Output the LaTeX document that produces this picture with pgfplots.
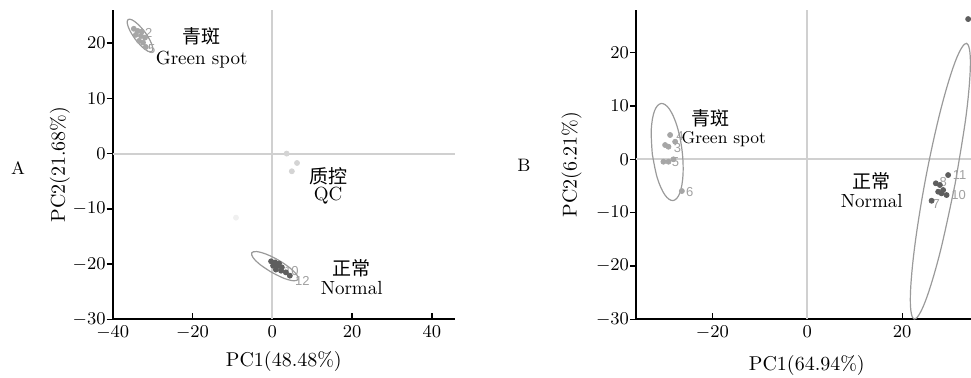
\documentclass[border=0pt]{standalone}
\usepackage{fontspec}
\usepackage{pgfplots}
\pgfplotsset{compat=1.18}
\newfontfamily\cjk{Noto Sans CJK SC}
\newfontfamily\numf{Liberation Sans}
\definecolor{zl}{HTML}{D0D0D0}
\definecolor{ell}{HTML}{9A9A9A}
\definecolor{gsp}{HTML}{A6A6A6}
\definecolor{nor}{HTML}{5E5E5E}
\definecolor{qc}{HTML}{D4D4D4}
\definecolor{lab}{HTML}{A0A0A0}
\pgfplotsset{
  pca/.style={
    scale only axis, height=154.65pt, anchor=south west,
    axis x line=bottom, axis y line=left,
    axis line style={-, line width=0.8pt},
    tick align=inside, major tick length=3pt,
    xtick style={line width=0.7pt, black},
    ytick style={line width=0.7pt, black, xshift=-3pt},
    ymin=-30, ytick={-30,-20,-10,0,10,20},
    tick label style={font=\fontsize{9}{10}\selectfont},
    label style={font=\fontsize{10}{11}\selectfont},
    clip=true,
  },
  zero/.style={zl, line width=1pt, forget plot},
  ellp/.style={ell, line width=0.6pt, smooth, tension=0.6, no markers},
  pts/.style={only marks, mark=*, mark size=1.25pt},
}
\tikzset{
  txt/.style={font=\fontsize{9.5}{11}\selectfont, align=center},
  num/.style={font=\numf\fontsize{6.5}{7}\selectfont, text=lab, inner sep=0pt, anchor=west},
}
\begin{document}
\begin{tikzpicture}
\useasboundingbox (0,0) rectangle (485.5pt,189pt);
% ---------------- Panel A
\begin{axis}[pca, at={(56.35pt,29.35pt)}, width=171.15pt,
  xmin=-40, xmax=45.8, ymax=26.0, xtick={-40,-20,0,20,40},
  xlabel={PC1(48.48\%)}, ylabel={PC2(21.68\%)},
  xlabel style={at={(axis description cs:0.5,-0.137)}, anchor=center},
  ylabel style={at={(axis description cs:-0.154,0.5)}, anchor=center}]
\addplot[zero] coordinates {(0,-30) (0,26)};
\addplot[zero] coordinates {(-40,0) (45.8,0)};
\addplot[ellp] coordinates {(-34.36,20.72) (-35.69,22.26) (-36.34,23.56) (-36.14,24.27) (-35.14,24.21) (-33.61,23.38) (-31.95,22.03) (-30.63,20.49) (-29.97,19.19) (-30.18,18.48) (-31.18,18.54) (-32.71,19.37) (-34.36,20.72)};
\addplot[ellp] coordinates {(-0.23,-21.47) (-3.01,-20.12) (-4.81,-18.84) (-5.15,-17.97) (-3.93,-17.74) (-1.49,-18.22) (1.53,-19.28) (4.31,-20.64) (6.12,-21.92) (6.45,-22.79) (5.24,-23.02) (2.79,-22.54) (-0.23,-21.47)};
\addplot[pts, gsp] coordinates {(-34.7,22.6) (-33.7,22.2) (-32.7,22.1) (-34.2,21.5) (-32.9,21.3) (-31.9,21.0) (-33.4,20.4) (-32.4,20.1) (-31.7,19.3)};
\addplot[pts, qc] coordinates {(3.6,0) (6.2,-1.7) (4.9,-3.2)};
\addplot[pts, qc!35] coordinates {(-9.1,-11.6)};
\addplot[pts, nor] coordinates {(-0.3,-19.5) (0.7,-19.7) (1.7,-19.9) (0.2,-20.3) (1.2,-20.4) (2.4,-20.6) (0.9,-21.0) (2.2,-21.2) (3.4,-21.5) (4.4,-22.1)};
\node[num] at (axis cs:-31.2,19.0) {5};
\node[num] at (axis cs:-32.0,21.8) {2};
\node[num] at (axis cs:2.9,-21.3) {10};
\node[num] at (axis cs:5.6,-23.0) {12};
\node[txt] at (axis cs:-17.7,21.2) {\cjk 青斑};
\node[txt] at (axis cs:-17.7,17.1) {Green spot};
\node[txt] at (axis cs:14.0,-4.1) {\cjk 质控};
\node[txt] at (axis cs:14.0,-7.6) {QC};
\node[txt] at (axis cs:19.9,-20.7) {\cjk 正常};
\node[txt] at (axis cs:19.9,-24.4) {Normal};
\end{axis}
% ---------------- Panel B
\begin{axis}[pca, at={(318pt,29.35pt)}, width=167.5pt,
  xmin=-36.1, xmax=34.5, ymax=28.0, xtick={-20,0,20},
  xlabel={PC1(64.94\%)}, ylabel={PC2(6.21\%)},
  xlabel style={at={(axis description cs:0.51,-0.148)}, anchor=center},
  ylabel style={at={(axis description cs:-0.192,0.5)}, anchor=center}]
\addplot[zero] coordinates {(0,-30) (0,28)};
\addplot[zero] coordinates {(-36.1,0) (34.5,0)};
\addplot[ellp] coordinates {(-32.67,1.02) (-32.88,5.62) (-32.2,9.08) (-30.8,10.47) (-29.06,9.42) (-27.45,6.22) (-26.4,1.72) (-26.19,-2.88) (-26.87,-6.34) (-28.27,-7.73) (-30.01,-6.68) (-31.62,-3.48) (-32.67,1.02)};
\addplot[ellp] coordinates {(31.14,-4.64) (27.97,-17.49) (24.82,-26.75) (22.53,-29.96) (21.71,-26.23) (22.6,-16.58) (24.94,-3.58) (28.11,9.27) (31.27,18.54) (33.56,21.74) (34.37,18.01) (33.49,8.36) (31.14,-4.64)};
\addplot[pts, gsp] coordinates {(-28.91,4.56) (-29.96,2.68) (-29.26,2.36) (-27.85,3.30) (-30.32,-0.45) (-29.26,-0.45) (-28.21,0) (-26.44,-5.95)};
\addplot[pts, nor] coordinates {(29.68,-2.95) (27.09,-4.5) (27.94,-4.82) (27.58,-6.08) (28.29,-6.38) (28.63,-5.76) (26.19,-7.77) (29.35,-6.7) (33.9,26.3)};
\node[num] at (axis cs:-27.7,4.4) {4};
\node[num] at (axis cs:-28.2,2.2) {3};
\node[num] at (axis cs:-28.6,-0.6) {5};
\node[num] at (axis cs:-25.6,-6.1) {6};
\node[num] at (axis cs:30.6,-3.0) {11};
\node[num] at (axis cs:27.8,-4.3) {8};
\node[num] at (axis cs:30.3,-6.7) {10};
\node[num] at (axis cs:26.3,-8.3) {7};
\node[txt] at (axis cs:-20.5,7.7) {\cjk 青斑};
\node[txt, font=\fontsize{8.5}{10}\selectfont] at (axis cs:-17.6,3.8) {Green spot};
\node[txt] at (axis cs:13.6,-4.2) {\cjk 正常};
\node[txt] at (axis cs:13.6,-7.9) {Normal};
\end{axis}
\node[font=\fontsize{9}{10}\selectfont] at (9pt,105pt) {A};
\node[font=\fontsize{9}{10}\selectfont] at (262pt,106.5pt) {B};
\end{tikzpicture}
\end{document}
